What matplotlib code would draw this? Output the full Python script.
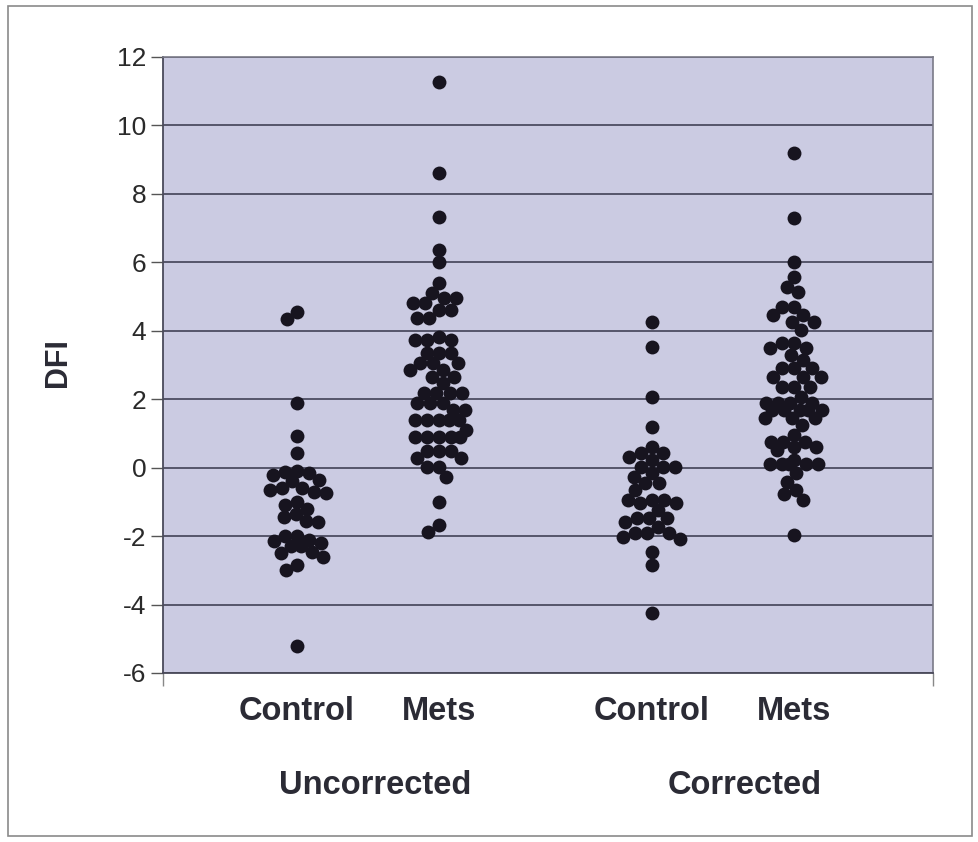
import numpy as np
import matplotlib.pyplot as plt
from matplotlib.patches import Rectangle

# DFI values
ctrl_uncorr = [4.55, 4.35, 1.9, 0.93, 0.42, -0.1, -0.12, -0.15, -0.2, -0.35, -0.4,
               -0.6, -0.6, -0.65, -0.7, -0.75, -1.0, -1.1, -1.2, -1.35, -1.45, -1.55,
               -1.6, -2.0, -2.0, -2.1, -2.15, -2.2, -2.3, -2.3, -2.45, -2.5, -2.6,
               -2.85, -3.0, -5.2]
mets_uncorr = [11.28, 8.6, 7.33, 6.36, 6.0, 5.39, 5.09, 4.95, 4.95, 4.8, 4.8, 4.6, 4.6,
               4.37, 4.37, 3.83, 3.73, 3.73, 3.73, 3.35, 3.35, 3.35, 3.05, 3.05, 3.05,
               2.85, 2.85, 2.66, 2.66, 2.47, 2.17, 2.17, 2.17, 2.17, 1.88, 1.88, 1.88,
               1.68, 1.68, 1.39, 1.39, 1.39, 1.39, 1.39, 1.1, 0.9, 0.9, 0.9, 0.9, 0.9,
               0.5, 0.5, 0.5, 0.27, 0.27, 0.03, 0.03, -0.27, -1.0, -1.68, -1.87]
ctrl_corr = [4.27, 3.53, 2.07, 1.2, 0.61, 0.42, 0.42, 0.32, 0.22, 0.03, 0.03, 0.03,
             -0.17, -0.27, -0.46, -0.46, -0.66, -0.95, -0.95, -0.95, -1.04, -1.04,
             -1.24, -1.48, -1.48, -1.48, -1.58, -1.73, -1.92, -1.92, -1.92, -2.02,
             -2.07, -2.46, -2.85, -4.26]
mets_corr = [9.2, 7.29, 6.02, 5.58, 5.29, 5.12, 4.7, 4.7, 4.46, 4.46, 4.27, 4.27, 4.02,
             3.63, 3.63, 3.49, 3.49, 3.29, 3.15, 2.9, 2.9, 2.9, 2.66, 2.66, 2.66, 2.37,
             2.37, 2.37, 2.07, 1.88, 1.88, 1.88, 1.88, 1.68, 1.68, 1.68, 1.68, 1.68,
             1.44, 1.44, 1.44, 1.24, 0.95, 0.76, 0.76, 0.76, 0.61, 0.61, 0.51, 0.22,
             0.12, 0.12, 0.12, 0.12, 0.12, -0.17, -0.41, -0.66, -0.76, -0.95, -1.97]

groups = [ctrl_uncorr, mets_uncorr, ctrl_corr, mets_corr]
positions = [1, 2, 3.5, 4.5]
cat_labels = ["Control", "Mets", "Control", "Mets"]
set_labels = ["Uncorrected", "Corrected"]
set_label_x = [1.55, 4.15]
yticks = list(range(-6, 13, 2))


def swarm(vals, kx, ky, d, half_width):
    """Beeswarm offsets in data units, kept within +-half_width px."""
    placed = []
    offs = {}
    grid = np.arange(-half_width, half_width + 0.5, 1.0)
    grid = grid[np.argsort(np.abs(grid), kind='stable')]
    for i in np.argsort(vals)[::-1]:
        y = vals[i] * ky
        if placed:
            pts = np.array(placed)
            dist = np.sqrt((grid[:, None] - pts[None, :, 0]) ** 2
                           + (y - pts[None, :, 1]) ** 2).min(axis=1)
            free = np.nonzero(dist >= d)[0]
            c = grid[free[0]] if len(free) else grid[np.argmax(dist)]
        else:
            c = 0.0
        placed.append((c, y))
        offs[i] = c / kx
    return [offs[i] for i in range(len(vals))]


plt.rcParams['font.family'] = ['Liberation Sans', 'DejaVu Sans']

fig = plt.figure(figsize=(9.79, 8.42), dpi=100)
ax = fig.add_axes([163 / 979, 1 - 673 / 842, 770 / 979, 616 / 842])
ax.set_facecolor('#cbcbe2')

xmin, xmax = 1 - 134 / 142, 1 + 636 / 142
ax.set_xlim(xmin, xmax)
ax.set_ylim(-6, 12)

bb = ax.get_window_extent()
kx = bb.width / (xmax - xmin)
ky = bb.height / 18.0

for pos, vals in zip(positions, groups):
    offs = swarm(vals, kx, ky, 12.0, 29)
    ax.scatter([pos + o for o in offs], vals, s=100, color='#17141f',
               linewidths=0, zorder=3)

ax.set_yticks(yticks)
ax.set_yticklabels([str(t) for t in yticks], fontsize=19, color='#2a2a2a')
ax.yaxis.grid(True, color='#55556a', linewidth=1.4)
ax.set_axisbelow(True)
ax.tick_params(axis='y', length=9, width=1, color='#555555', pad=3)
ax.set_xticks([xmin, xmax])
ax.set_xticklabels(['', ''])
ax.tick_params(axis='x', length=9, width=1, color='#888888')

for side in ['left', 'bottom']:
    ax.spines[side].set_color('#4a4a5a')
    ax.spines[side].set_linewidth(1.3)
for side in ['top', 'right']:
    ax.spines[side].set_color('#7a7a88')
    ax.spines[side].set_linewidth(1.2)

tr = ax.get_xaxis_transform()
for pos, lab in zip(positions, cat_labels):
    ax.text(pos, -0.063, lab, transform=tr, ha='center', va='center',
            fontsize=23.5, fontweight='bold', color='#2b2b35')
for x, lab in zip(set_label_x, set_labels):
    ax.text(x, -0.182, lab, transform=tr, ha='center', va='center',
            fontsize=23.5, fontweight='bold', color='#2b2b35')

fig.text(58 / 979, 1 - 363 / 842, 'DFI', rotation=90, ha='center', va='center',
         fontsize=22, fontweight='bold', color='#2b2b35')

# outer frame of the chart
fig.patches.append(Rectangle((8 / 979, 6 / 842), 964 / 979, 830 / 842,
                             transform=fig.transFigure, fill=False,
                             edgecolor='#8a8a8a', linewidth=1.2))

fig.savefig('out.png', dpi=100)
